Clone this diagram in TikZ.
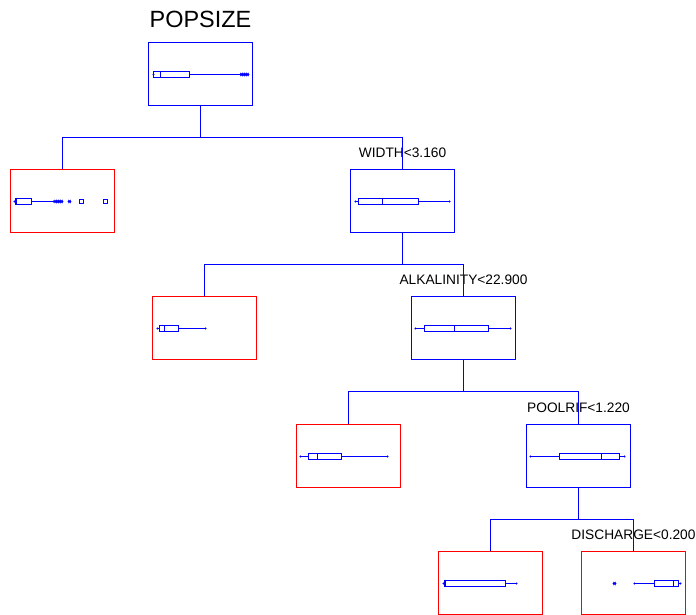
\documentclass[tikz,border=0pt]{standalone}
\usepackage{fontspec}
\setmainfont{Liberation Sans}
\usetikzlibrary{positioning}

% box plot: y, low whisker, q1, median, q3, high whisker
\newcommand{\bxplt}[6]{%
	\draw[bp] (#2,#1) -- (#3,#1) (#5,#1) -- (#6,#1);
	\draw[bp] (#3,#1-3) -- (#5,#1-3) -- (#5,#1+3) -- (#3,#1+3) -- cycle;
	\draw[bp] (#4,#1-3) -- (#4,#1+3);
	\fill[blue] (#2,#1) circle[radius=0.9pt] (#6,#1) circle[radius=0.9pt];
}
% outliers
\newcommand{\ostar}[2]{\draw[bp,line width=0.6pt] (#1-1.8,#2) -- (#1+1.8,#2) (#1-1.1,#2-1.6) -- (#1+1.1,#2+1.6) (#1-1.1,#2+1.6) -- (#1+1.1,#2-1.6);}
\newcommand{\osq}[2]{\draw[bp] (#1-2,#2-2) -- (#1+2,#2-2) -- (#1+2,#2+2) -- (#1-2,#2+2) -- cycle;}

\begin{document}
\begin{tikzpicture}[x=0.75pt,y=-0.75pt,
	split/.style={draw=blue,line width=0.75pt,minimum width=78pt,minimum height=47.25pt,inner sep=0pt},
	leaf/.style={split,draw=red},
	edge/.style={blue,line width=0.75pt},
	bp/.style={draw=blue,line width=0.9pt},
	rule/.style={font=\fontsize{10.3}{12}\selectfont,inner sep=0pt,text depth=0pt}]
	
	\useasboundingbox (0,0) rectangle (696,614);
	
	% Nodi
	\node[split] (pop) at (200.5,74) {};
	\node[leaf] (leafA) at (62.5,201) {};
	\node[split] (width) at (402.5,201) {};
	\node[leaf] (leafB) at (204.5,328) {};
	\node[split] (alk) at (463.5,328) {};
	\node[leaf] (leafC) at (348.5,456) {};
	\node[split] (pool) at (578.5,456) {};
	\node[leaf] (leafD) at (490.5,583) {};
	\node[leaf] (leafE) at (633.5,583) {};
	
	% Etichette
	\node[font=\fontsize{17.6}{20}\selectfont,inner sep=0pt,text depth=0pt,above=10.5pt of pop] (poplbl) {POPSIZE};
	\node[rule,above=8.25pt of width] (widthlbl) {WIDTH<3.160};
	\node[rule,above=8.25pt of alk] (alklbl) {ALKALINITY<22.900};
	\node[rule,above=8.25pt of pool] (poollbl) {POOLRIF<1.220};
	\node[rule,above=8.25pt of leafE] (dischlbl) {DISCHARGE<0.200};
	
	% Rami
	\draw[edge] (pop.south) -- ++(0,31) -| (leafA.north);
	\draw[edge] (pop.south) -- ++(0,31) -| (width.north);
	\draw[edge] (width.south) -- ++(0,31) -| (leafB.north);
	\draw[edge] (width.south) -- ++(0,31) -| (alk.north);
	\draw[edge] (alk.south) -- ++(0,31) -| (leafC.north);
	\draw[edge] (alk.south) -- ++(0,31) -| (pool.north);
	\draw[edge] (pool.south) -- ++(0,31) -| (leafD.north);
	\draw[edge] (pool.south) -- ++(0,31) -| (leafE.north);
	
	% Box plot
	\bxplt{74.5}{153.5}{153.5}{160.5}{189.5}{240.5}
	\foreach \x in {241.5,243.5,245.5,247.5} {\ostar{\x}{74.5}}
	
	\bxplt{201.5}{14.5}{15.5}{16.5}{31.5}{53.5}
	\foreach \x in {55.5,57.5,59.5,61.5,69.5} {\ostar{\x}{201.5}}
	\osq{81.5}{201.5}
	\osq{105.5}{201.5}
	
	\bxplt{201.5}{355.5}{358.5}{382.5}{418.5}{449.5}
	\bxplt{328.5}{157.5}{159.5}{164.5}{178.5}{205.5}
	\bxplt{328.5}{415.5}{424.5}{454.5}{488.5}{510.5}
	\bxplt{456.5}{300.5}{308.5}{317.5}{341.5}{387.5}
	\bxplt{456.5}{530.5}{559.5}{601.5}{619.5}{624.5}
	\bxplt{583.5}{443.5}{444.5}{445.5}{505.5}{516.5}
	\bxplt{583.5}{634.5}{654.5}{673.5}{678.5}{680.5}
	\ostar{614.5}{583.5}
	
\end{tikzpicture}
\end{document}
